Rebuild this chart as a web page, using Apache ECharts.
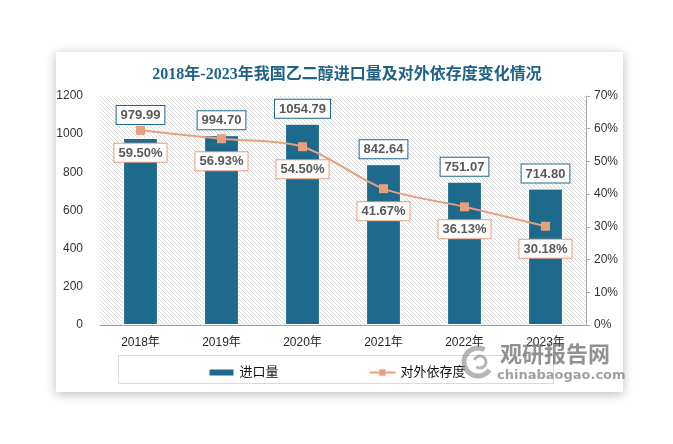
<!DOCTYPE html>
<html><head><meta charset="utf-8">
<script src="https://cdn.jsdelivr.net/npm/echarts@6/dist/echarts.min.js"></script>
<style>
html,body{margin:0;padding:0;background:#fff;}
#card{position:absolute;left:56px;top:52px;width:567px;height:340px;background:#fff;box-shadow:0 2px 10px rgba(0,0,0,0.28);}
#main{position:absolute;left:0;top:0;width:673px;height:444px;}
</style></head><body>
<div id="card"></div><div id="main"></div>
<script>
const categories = ['2018年', '2019年', '2020年', '2021年', '2022年', '2023年'];
const importVolume = [979.99, 994.70, 1054.79, 842.64, 751.07, 714.80];
const dependenceRate = [59.50, 56.93, 54.50, 41.67, 36.13, 30.18];

const BAR = '#1e6a8d';
const LINE = '#e89f7d';
const FONT = "'Liberation Sans', 'Noto Sans CJK SC', sans-serif";

// hatch pattern for the plot area
const pc = document.createElement('canvas');
pc.width = 4; pc.height = 4;
const g = pc.getContext('2d');
g.fillStyle = '#ffffff'; g.fillRect(0, 0, 4, 4);
g.strokeStyle = '#d9d9d9'; g.lineWidth = 1;
g.beginPath();
g.moveTo(-1, -1); g.lineTo(5, 5);
g.moveTo(-1, 3); g.lineTo(1, 5);
g.moveTo(3, -1); g.lineTo(5, 1);
g.stroke();

const chart = echarts.init(document.getElementById('main'), null, {renderer: 'canvas'});
const barData = importVolume.map((v, i) => i === 0 ? {value: v, label: {distance: 14}} : v);

chart.setOption({
  backgroundColor: 'transparent',
  animation: false,
  title: {
    text: '2018年-2023年我国乙二醇进口量及对外依存度变化情况',
    left: 342, top: 62, textAlign: 'center',
    textStyle: {fontFamily: "'Liberation Serif', 'Noto Sans CJK SC', serif", fontSize: 16, fontWeight: 'bold', color: '#1f6286'}
  },
  grid: {
    left: 100, right: 87, top: 96, bottom: 119,
    show: true, borderWidth: 0,
    backgroundColor: {image: pc, repeat: 'repeat'}
  },
  legend: {
    left: 'center', top: 361,
    itemGap: 90, itemWidth: 26, itemHeight: 8,
    textStyle: {fontFamily: FONT, fontSize: 13, color: '#111'},
    data: [{name: '进口量', icon: 'rect'}, {name: '对外依存度'}]
  },
  xAxis: {
    type: 'category', data: categories,
    axisLine: {lineStyle: {color: '#a6a6a6'}},
    axisTick: {show: false},
    axisLabel: {fontFamily: FONT, fontSize: 12, color: '#262626', margin: 12}
  },
  yAxis: [
    {
      type: 'value', min: 0, max: 1200, interval: 200,
      axisLine: {show: false}, axisTick: {show: false}, splitLine: {show: false},
      axisLabel: {fontFamily: FONT, fontSize: 12, color: '#333', margin: 17, formatter: v => String(v)}
    },
    {
      type: 'value', min: 0, max: 70, interval: 10, position: 'right',
      axisLine: {show: true, lineStyle: {color: '#a6a6a6'}},
      axisTick: {show: true, length: 4, lineStyle: {color: '#a6a6a6'}},
      splitLine: {show: false},
      axisLabel: {fontFamily: FONT, fontSize: 12, color: '#333', margin: 8, formatter: '{value}%'}
    }
  ],
  series: [
    {
      name: '进口量', type: 'bar', data: barData, barWidth: '43%',
      itemStyle: {color: BAR, borderColor: '#fff', borderWidth: 1},
      label: {
        show: true, position: 'top', distance: 6,
        formatter: p => p.value.toFixed(2),
        fontFamily: FONT, fontSize: 13, fontWeight: 'bold', color: '#595959',
        backgroundColor: '#fff', borderColor: BAR, borderWidth: 1, padding: [3, 4, 2, 4]
      },
      z: 2
    },
    {
      name: '对外依存度', type: 'line', yAxisIndex: 1, data: dependenceRate,
      smooth: 0.3, symbol: 'rect', symbolSize: 9,
      lineStyle: {color: LINE, width: 2},
      itemStyle: {color: LINE},
      label: {
        show: true, position: 'bottom', distance: 9,
        formatter: p => p.value.toFixed(2) + '%',
        fontFamily: FONT, fontSize: 13, fontWeight: 'bold', color: '#595959',
        backgroundColor: '#fff', borderColor: LINE, borderWidth: 1, padding: [3, 4, 2, 4]
      },
      z: 3
    }
  ],
  graphic: [
    {type: 'rect', shape: {x: 118.5, y: 355.5, width: 435, height: 28}, style: {fill: 'none', stroke: '#d9d9d9', lineWidth: 1}, z: 1},
    {type: 'arc', shape: {cx: 478, cy: 362, r: 14, startAngle: 0.6, endAngle: 5.2}, style: {fill: 'none', stroke: 'rgba(120,120,120,0.55)', lineWidth: 5}, z: 100},
    {type: 'arc', shape: {cx: 480, cy: 362, r: 6, startAngle: 3.5, endAngle: 8.5}, style: {fill: 'none', stroke: 'rgba(120,120,120,0.55)', lineWidth: 3}, z: 100},
    {type: 'text', x: 500, y: 343, style: {text: '观研报告网', font: "bold 22px 'Noto Sans CJK SC'", fill: 'rgba(110,110,110,0.75)'}, z: 100},
    {type: 'text', x: 497, y: 369, style: {text: 'chinabaogao.com', font: "bold 13px 'DejaVu Sans'", fill: 'rgba(120,120,120,0.7)'}, z: 100}
  ]
});
</script>
</body></html>
